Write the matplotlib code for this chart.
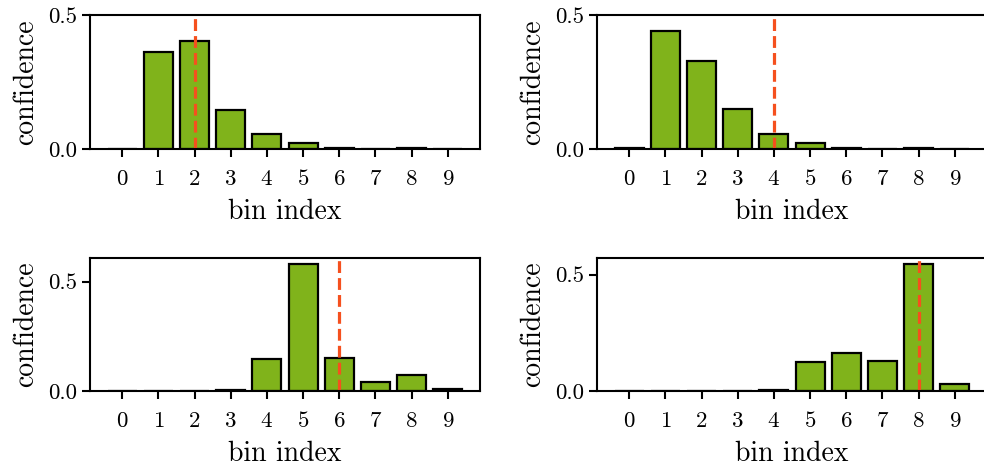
import matplotlib
matplotlib.use("Agg")
import matplotlib.pyplot as plt

plt.rcParams['font.family'] = ['cmr10', 'DejaVu Serif']
plt.rcParams['mathtext.fontset'] = 'cm'
plt.rcParams['axes.formatter.use_mathtext'] = True

# bin indices and predicted confidences for each panel
bins = list(range(10))
conf_a = [0.001, 0.363, 0.403, 0.146, 0.056, 0.021, 0.003, 0.001, 0.002, 0.001]
conf_b = [0.002, 0.440, 0.327, 0.149, 0.056, 0.021, 0.003, 0.001, 0.002, 0.001]
conf_c = [0.001, 0.001, 0.002, 0.003, 0.146, 0.579, 0.153, 0.040, 0.071, 0.008]
conf_d = [0.001, 0.001, 0.001, 0.002, 0.006, 0.126, 0.164, 0.129, 0.544, 0.030]
# true bin marked with dashed line
true_bins = [2, 4, 6, 8]
panels = [conf_a, conf_b, conf_c, conf_d]

bar_color = '#80b31b'
line_color = '#f5501e'

fig = plt.figure(figsize=(9.84, 4.70), dpi=100)
W, H = 984, 470
# axes boxes in pixels: left, top, right, bottom
boxes = [(90, 15, 480, 149), (597, 15, 987, 149),
         (90, 258, 480, 391), (597, 258, 987, 391)]

for i, (vals, tb, box) in enumerate(zip(panels, true_bins, boxes)):
    l, t, r, b = box
    ax = fig.add_axes([l / W, (H - b) / H, (r - l) / W, (b - t) / H])
    ax.bar(bins, vals, width=0.8, color=bar_color, edgecolor='black', linewidth=1.6)
    if i < 2:
        ax.set_ylim(0, 0.5)
    else:
        ax.set_ylim(0, max(vals) * 1.05)
    ax.axvline(tb, color=line_color, linestyle='--', linewidth=2.3)
    ax.set_xticks(bins)
    ax.set_yticks([0.0, 0.5])
    ax.set_yticklabels(['0.0', '0.5'])
    ax.tick_params(labelsize=16.5, length=6, width=1.5)
    ax.tick_params(axis='x', pad=8.5)
    ax.set_xlabel('bin index', fontsize=20, labelpad=7)
    ax.set_ylabel('confidence', fontsize=20, labelpad=6)
    for sp in ax.spines.values():
        sp.set_linewidth(1.5)

fig.savefig('out.png', dpi=100)
